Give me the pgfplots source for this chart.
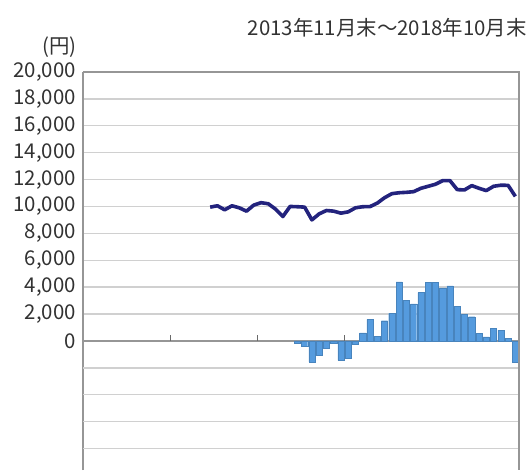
\documentclass[border=0pt]{standalone}
\usepackage{fontspec}
\setmainfont{Noto Sans CJK JP}
\usepackage{pgfplots}
\pgfplotsset{compat=1.18}
\definecolor{navy}{RGB}{35,35,125}
\definecolor{barblue}{RGB}{85,155,222}
\definecolor{gridgray}{RGB}{208,208,208}
\definecolor{axgray}{RGB}{150,150,150}
\definecolor{txt}{RGB}{50,50,50}
\begin{document}
\begin{tikzpicture}
\path[use as bounding box] (-41.5pt,0) rectangle (222.5pt,235pt);
\begin{axis}[
 at={(0,0)}, anchor=south west, scale only axis,
 width=218pt, height=199pt,
 xmin=0, xmax=60, ymin=-9600, ymax=20000,
 axis x line=middle, axis y line=left,
 hide obscured x ticks=false, hide obscured y ticks=false,
 axis line style={-, draw=axgray, line width=0.8pt},
 xtick=\empty,
 extra x ticks={12,24,36,48}, extra x tick labels={},
 extra x tick style={major tick length=3pt, tick align=inside, tick style={draw=axgray!70!black, line width=0.6pt}},
 ytick={0,2000,...,20000},
 scaled y ticks=false,
 extra y ticks={-8000,-6000,-4000,-2000}, extra y tick labels={},
 extra y tick style={grid=major},
 ymajorgrids,
 major grid style={draw=gridgray, line width=0.7pt},
 major tick length=0pt,
 /pgf/number format/assume math mode=true,
 yticklabel style={font=\fontsize{10.2}{12}\selectfont, text=txt},
 clip=false,
]
\addplot[ybar, bar width=0.85, fill=barblue, draw=barblue!85!black, line width=0.2pt] coordinates {
(29.5,-150) (30.5,-400) (31.5,-1550) (32.5,-1050) (33.5,-550) (34.5,-150)
(35.5,-1450) (36.5,-1300) (37.5,-250) (38.5,600) (39.5,1600) (40.5,350)
(41.5,1500) (42.5,2050) (43.5,4400) (44.5,3000) (45.5,2750) (46.5,3600)
(47.5,4350) (48.5,4350) (49.5,3950) (50.5,4100) (51.5,2550) (52.5,2000)
(53.5,1800) (54.5,550) (55.5,300) (56.5,950) (57.5,800) (58.5,200) (59.5,-1550)
};
\addplot[navy, line width=1.8pt, mark=none, line join=round] coordinates {
(17.5,9950) (18.5,10050) (19.5,9750) (20.5,10050) (21.5,9900) (22.5,9650)
(23.5,10100) (24.5,10280) (25.5,10200) (26.5,9800) (27.5,9250) (28.5,10000)
(29.5,9980) (30.5,9950) (31.5,9000) (32.5,9450) (33.5,9700) (34.5,9650)
(35.5,9500) (36.5,9600) (37.5,9900) (38.5,9980) (39.5,9990) (40.5,10250)
(41.5,10650) (42.5,10950) (43.5,11020) (44.5,11050) (45.5,11100) (46.5,11350)
(47.5,11500) (48.5,11650) (49.5,11920) (50.5,11920) (51.5,11250) (52.5,11230)
(53.5,11550) (54.5,11350) (55.5,11180) (56.5,11500) (57.5,11580) (58.5,11570)
(59.5,10750)
};
\draw[axgray, line width=0.8pt] (rel axis cs:0,1) -- (rel axis cs:1,1) -- (rel axis cs:1,0);
\end{axis}
\node[anchor=east, font=\fontsize{10.2}{12}\selectfont, text=txt, inner sep=0pt] at (222pt,221pt) {2013年11月末～2018年10月末};
\node[anchor=east, font=\fontsize{10.2}{12}\selectfont, text=txt, inner sep=0pt] at (-3pt,211.25pt) {(円)};
\end{tikzpicture}
\end{document}
